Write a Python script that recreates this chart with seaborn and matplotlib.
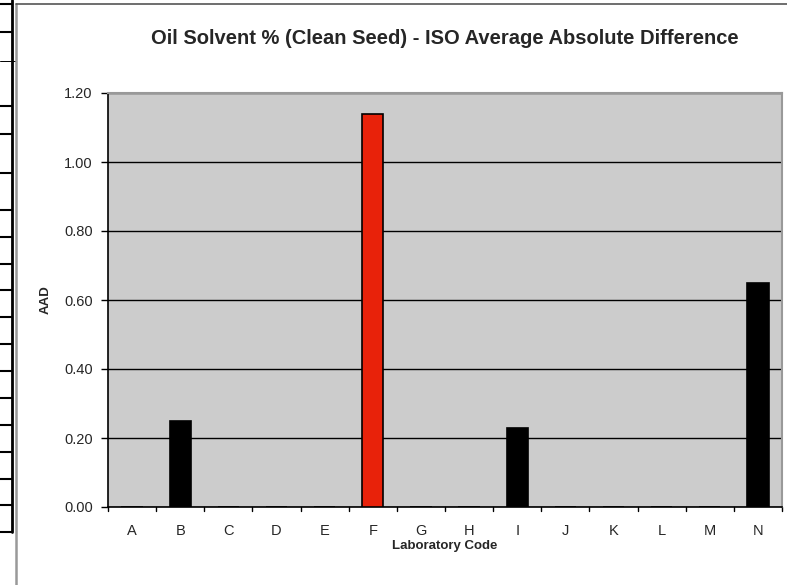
import matplotlib
matplotlib.use('Agg')
import matplotlib.pyplot as plt
import numpy as np
import pandas as pd
import seaborn as sns
from matplotlib.lines import Line2D

labs = ['A', 'B', 'C', 'D', 'E', 'F', 'G', 'H', 'I', 'J', 'K', 'L', 'M', 'N']
aad = [0, 0.25, 0, 0, 0, 1.14, 0, 0, 0.23, 0, 0, 0, 0, 0.65]
bar_colors = ['black'] * 5 + ['#E8220A'] + ['black'] * 8
y_ticks = [0.0, 0.2, 0.4, 0.6, 0.8, 1.0, 1.2]

sns.set_style('white')
plt.rcParams['font.family'] = ['Liberation Sans', 'DejaVu Sans']

df = pd.DataFrame({'Lab': labs, 'AAD': aad})

fig = plt.figure(figsize=(7.87, 5.85), dpi=100)
ax = fig.add_axes([108 / 787, 1 - 507 / 585, (782 - 108) / 787, (507 - 93) / 585])
ax.set_facecolor('#CCCCCC')

sns.barplot(data=df, x='Lab', y='AAD', hue='Lab', palette=bar_colors,
            legend=False, width=0.44, edgecolor='black', linewidth=1.2,
            saturation=1, ax=ax, zorder=3)

ax.set_ylim(0, 1.2)
ax.set_xlim(-0.5, len(labs) - 0.5)
ax.set_yticks(y_ticks)
ax.set_yticklabels([f'{v:.2f}' for v in y_ticks], fontsize=10.5)
ax.tick_params(axis='x', length=0, labelsize=10.5, pad=12.5)
ax.tick_params(axis='y', length=5, width=1, color='black', direction='out', left=True, pad=6)
ax.grid(axis='y', color='black', linewidth=1, zorder=1)
ax.set_axisbelow(True)

# tick marks between categories on the x axis
for xb in np.arange(-0.5, len(labs), 1.0):
    ax.plot([xb, xb], [0, -0.012], color='black', linewidth=1, clip_on=False)

for side in ['top', 'right']:
    ax.spines[side].set_color('#999999')
    ax.spines[side].set_linewidth(1.5)
for side in ['left', 'bottom']:
    ax.spines[side].set_color('black')
    ax.spines[side].set_linewidth(1.2)

ax.set_xlabel('Laboratory Code', fontsize=9.5, fontweight='bold', labelpad=1.5)
ax.set_ylabel('AAD', fontsize=9.5, fontweight='bold', labelpad=9)
fig.text(445 / 787, 1 - 38 / 585, 'Oil Solvent % (Clean Seed) - ISO Average Absolute Difference',
         ha='center', va='center', fontsize=14.5, fontweight='bold')

# spreadsheet cell grid and chart-area border at the left edge
W, H = 787, 585
def px_line(x0, y0, x1, y1, color, lw):
    fig.add_artist(Line2D([x0 / W, x1 / W], [1 - y0 / H, 1 - y1 / H],
                          color=color, linewidth=lw, transform=fig.transFigure))

px_line(12, 0, 12, 532, 'black', 2)
for yy in [4, 32, 106, 134, 173, 210, 237, 264, 290, 317, 344, 371, 398, 425, 452, 479, 505, 532]:
    px_line(0, yy, 12, yy, 'black', 1.5)
px_line(0, 61, 16, 61, 'black', 0.7)
px_line(16, 4, 16, 585, '#999999', 1.8)
px_line(16, 4, 787, 4, '#555555', 1.2)

fig.savefig('out.png', dpi=100)
